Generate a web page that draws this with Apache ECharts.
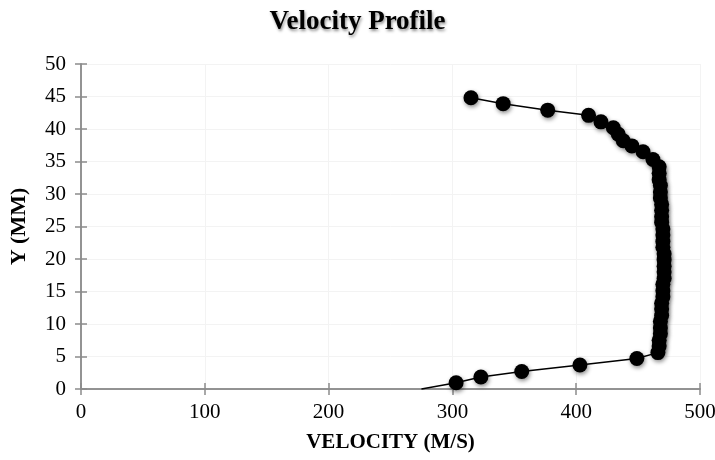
<!DOCTYPE html>
<html>
<head>
<meta charset="utf-8">
<script src="https://cdn.jsdelivr.net/npm/echarts@6/dist/echarts.min.js"></script>
<style>
html,body{margin:0;padding:0;background:#fff;}
#chart{width:715px;height:460px;}
</style>
</head>
<body>
<div id="chart"></div>
<script>
const chartTitle = "Velocity Profile";
const xAxisName = "VELOCITY (M/S)";
const yAxisName = "Y (MM)";
// velocity (m/s)
const velocity = [275, 303, 323, 356, 403, 449,
  466, 467, 467, 468, 468, 468, 469, 469, 469, 470, 470, 470, 471, 471, 471,
  471, 471, 470, 470, 470, 470, 469, 469, 469, 469, 468, 468, 468, 467, 467, 467,
  462, 454, 445, 438, 434, 430, 420, 410, 377, 341, 315];
// y position (mm)
const yPos = [0, 0.97, 1.85, 2.7, 3.7, 4.7,
  5.6, 6.6, 7.5, 8.5, 9.4, 10.4, 11.3, 12.3, 13.2, 14.2, 15.1, 16.1, 17.0, 18.0, 18.9,
  19.9, 20.8, 21.8, 22.7, 23.7, 24.6, 25.6, 26.5, 27.5, 28.4, 29.4, 30.3, 31.3, 32.2, 33.2, 34.2,
  35.3, 36.5, 37.4, 38.2, 39.2, 40.2, 41.1, 42.1, 42.9, 43.9, 44.8];
const hiddenMarker = [0]; // wall point drawn as line only

const data = velocity.map((v, i) => {
  const p = { value: [v, yPos[i]] };
  if (hiddenMarker.includes(i)) p.symbolSize = 0;
  return p;
});

const chart = echarts.init(document.getElementById('chart'));
const axisColor = '#8c8c8c';
const font = '"Liberation Serif", "Times New Roman", serif';
const baseX = {
  type: 'value', min: 0, max: 500, interval: 100,
  axisLine: { show: true, onZero: false, lineStyle: { color: axisColor, width: 1.5 } },
  axisTick: { show: true, length: 6, lineStyle: { color: axisColor, width: 1.5 } },
};
const baseY = {
  type: 'value', min: 0, max: 50, interval: 5,
  axisLine: { show: true, onZero: false, lineStyle: { color: axisColor, width: 1.5 } },
  axisTick: { show: true, length: 6, lineStyle: { color: axisColor, width: 1.5 } },
};
chart.setOption({
  backgroundColor: '#fff',
  animation: false,
  title: {
    text: chartTitle, left: 'center', top: 4,
    textStyle: { fontFamily: font, fontSize: 27, fontWeight: 'bold', color: '#000',
      textShadowColor: 'rgba(0,0,0,0.45)', textShadowBlur: 3, textShadowOffsetX: 1, textShadowOffsetY: 2 }
  },
  grid: { left: 81, right: 15, top: 64, bottom: 71, containLabel: false, outerBoundsMode: 'none' },
  xAxis: [
    Object.assign({}, baseX, {
      position: 'bottom',
      name: xAxisName, nameLocation: 'middle', nameGap: 43,
      nameTextStyle: { fontFamily: font, fontSize: 21, fontWeight: 'bold', color: '#000' },
      axisLabel: { fontFamily: font, fontSize: 21, color: '#000', margin: 13 },
      splitLine: { show: true, lineStyle: { color: '#f3f3f3', width: 1 } }
    }),
    Object.assign({}, baseX, {
      position: 'bottom',
      axisTick: { show: true, inside: true, length: 6, lineStyle: { color: axisColor, width: 1.5 } },
      axisLabel: { show: false }, splitLine: { show: false }
    })
  ],
  yAxis: [
    Object.assign({}, baseY, {
      position: 'left',
      name: yAxisName, nameLocation: 'middle', nameGap: 51, nameRotate: 90,
      nameTextStyle: { fontFamily: font, fontSize: 22, fontWeight: 'bold', color: '#000' },
      axisLabel: { fontFamily: font, fontSize: 21, color: '#000', margin: 15 },
      splitLine: { show: true, lineStyle: { color: '#f3f3f3', width: 1 } }
    }),
    Object.assign({}, baseY, {
      position: 'left',
      axisTick: { show: true, inside: true, length: 6, lineStyle: { color: axisColor, width: 1.5 } },
      axisLabel: { show: false }, splitLine: { show: false }
    })
  ],
  series: [{
    type: 'line',
    data: data,
    xAxisIndex: 0, yAxisIndex: 0,
    symbol: 'circle', symbolSize: 15,
    showAllSymbol: true,
    clip: false,
    lineStyle: { color: '#000', width: 1.5 },
    itemStyle: { color: '#000', shadowColor: 'rgba(0,0,0,0.45)', shadowBlur: 4, shadowOffsetX: 1, shadowOffsetY: 2 }
  }]
});
</script>
</body>
</html>
